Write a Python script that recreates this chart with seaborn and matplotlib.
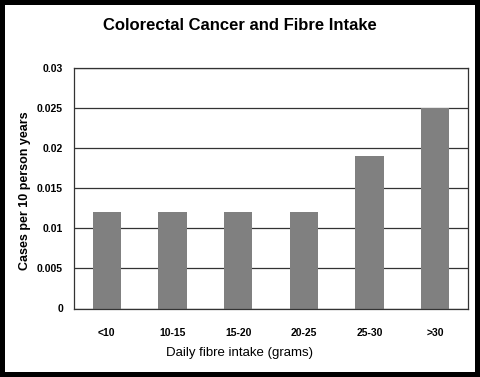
import pandas as pd
import matplotlib
matplotlib.use('Agg')
import matplotlib.pyplot as plt
import seaborn as sns
from matplotlib.patches import Rectangle

# Data
categories = ['<10', '10-15', '15-20', '20-25', '25-30', '>30']
cases = [0.012, 0.012, 0.012, 0.012, 0.019, 0.025]
y_ticks = [0, 0.005, 0.01, 0.015, 0.02, 0.025, 0.03]
y_tick_labels = ['0', '0.005', '0.01', '0.015', '0.02', '0.025', '0.03']

df = pd.DataFrame({'intake': categories, 'cases': cases})

sns.set_style('white')
plt.rcParams['font.family'] = ['Liberation Sans', 'DejaVu Sans']
plt.rcParams['text.color'] = 'black'
plt.rcParams['xtick.color'] = 'black'
plt.rcParams['ytick.color'] = 'black'
plt.rcParams['axes.labelcolor'] = 'black'

fig = plt.figure(figsize=(4.8, 3.77), dpi=100, facecolor='black')
# white panel inside the black frame
fig.add_artist(Rectangle((5 / 480, 5 / 377), 470 / 480, 367 / 377,
                         transform=fig.transFigure, facecolor='white',
                         edgecolor='none', zorder=-1))

ax = fig.add_axes([74 / 480, (377 - 308.5) / 377, 394 / 480, 241 / 377])
ax.set_facecolor('white')

sns.barplot(data=df, x='intake', y='cases', color='#808080', saturation=1,
            width=0.43, linewidth=0, edgecolor='none', ax=ax)

ax.set_xlim(-0.5, len(categories) - 0.5)
ax.set_ylim(0, 0.03)
ax.set_yticks(y_ticks)
ax.set_yticklabels(y_tick_labels, fontsize=7.5, fontweight='bold')
ax.set_xticks(range(len(categories)))
ax.set_xticklabels(categories, fontsize=7.5, fontweight='bold')
ax.set_xticks([i - 0.5 for i in range(len(categories) + 1)], minor=True)
ax.tick_params(axis='x', which='major', length=0, pad=14)
ax.tick_params(axis='x', which='minor', length=4, width=0.8, color='#333333',
               direction='out')
ax.tick_params(axis='y', length=5, width=0.8, color='#333333', direction='out',
               pad=3)

ax.grid(True, axis='y', color='#333333', linewidth=0.9)
ax.set_axisbelow(True)
for side in ['left', 'bottom', 'right', 'top']:
    ax.spines[side].set_visible(True)
    ax.spines[side].set_color('#333333')
    ax.spines[side].set_linewidth(0.9)

ax.set_xlabel('Daily fibre intake (grams)', fontsize=9.5)
ax.xaxis.set_label_coords((240 - 74) / 394, -(353 - 308.5) / 241)
ax.xaxis.label.set_va('center')
ax.set_ylabel('Cases per 10 person years', fontsize=9, fontweight='bold')
ax.yaxis.set_label_coords(-(74 - 25) / 394, 0.49)
ax.yaxis.label.set_va('center')
fig.text(0.5, 1 - 26 / 377, 'Colorectal Cancer and Fibre Intake',
         ha='center', va='center', fontsize=12, fontweight='bold')

fig.savefig('out.png', dpi=100, facecolor='black')
